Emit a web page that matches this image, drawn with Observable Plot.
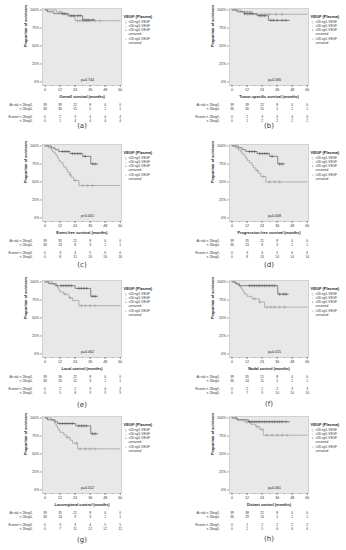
<!DOCTYPE html>
<html><head><meta charset="utf-8">
<script src="https://cdn.jsdelivr.net/npm/d3@7"></script>
<script src="https://cdn.jsdelivr.net/npm/@observablehq/plot@0.6"></script>
<style>
body{margin:0;background:#fff;}
#fig{position:relative;width:346px;height:550px;overflow:hidden;background:#fff;}
#fig svg{position:absolute;overflow:visible;}
</style></head>
<body><div id="fig"></div>
<script>
const panelIds = ["(a)","(b)","(c)","(d)","(e)","(f)","(g)","(h)"];
const xTitles = ["Overall survival (months)","Tumor-specific survival (months)","Event-free survival (months)","Progression-free survival (months)","Local control (months)","Nodal control (months)","Locoregional control (months)","Distant control (months)"];
const pTexts = ["p=0.744","p=0.580","p<0.001","p=0.008","p=0.062","p=0.015","p=0.012","p=0.061"];
const riskTimes = [0,12,24,36,48,60];
const yTicks = [0,0.25,0.5,0.75,1];
const rowLabels = ["At risk < 26ng/L","> 26ng/L","Events < 26ng/L","> 26ng/L"];
const legendTitle = "VEGF (Plasma)";
const legendItems = ["<26 ng/L VEGF",">26 ng/L VEGF","<26 ng/L VEGF","censored",">26 ng/L VEGF","censored"];

const atRiskLow  = [[39,39,22,8,0,0],[39,39,22,8,0,0],[39,35,21,8,0,0],[39,35,21,8,0,0],[39,36,22,8,0,0],[39,35,21,8,0,0],[39,35,21,8,0,0],[39,38,22,8,0,0]];
const atRiskHigh = [[36,30,15,5,1,1],[36,30,15,5,1,1],[36,23,8,3,1,1],[36,23,8,3,1,1],[36,26,12,3,1,1],[36,24,11,5,1,1],[36,24,9,3,1,1],[36,29,13,5,1,1]];
const eventsLow  = [[0,2,3,4,4,4],[0,2,3,4,4,4],[0,3,4,5,6,6],[0,3,4,5,6,6],[0,2,2,3,4,4],[0,2,2,2,3,3],[0,3,3,4,5,5],[0,1,2,2,2,2]];
const eventsHigh = [[0,1,4,4,4,4],[0,1,2,2,2,2],[0,8,15,16,16,16],[0,8,13,14,14,14],[0,5,8,9,9,9],[0,7,9,10,10,10],[0,7,11,12,12,12],[0,2,5,6,6,6]];

// Kaplan-Meier steps [month, proportion]; last entry = end of follow-up
const lowSteps = [
  [[0,1],[2,0.974],[7,0.948],[19,0.92],[30,0.86],[40,0.86]],
  [[0,1],[4,0.974],[10,0.947],[20,0.92],[29,0.855],[46,0.855]],
  [[0,1],[5,0.974],[8,0.948],[11,0.922],[20,0.894],[30,0.855],[36.5,0.75],[42,0.75]],
  [[0,1],[5,0.974],[8,0.948],[11,0.922],[20,0.894],[30,0.855],[36.5,0.75],[42,0.75]],
  [[0,1],[3,0.974],[9,0.948],[24,0.91],[36.5,0.80],[42,0.80]],
  [[0,1],[3,0.974],[6,0.948],[36.5,0.83],[45,0.83]],
  [[0,1],[2,0.974],[8,0.948],[10,0.922],[24.5,0.89],[36.5,0.78],[42,0.78]],
  [[0,1],[4,0.974],[13,0.947],[46,0.947]]
];
const highSteps = [
  [[0,1],[9,0.972],[14,0.943],[18,0.913],[24,0.85],[60,0.85]],
  [[0,1],[7,0.972],[16,0.94],[60,0.94]],
  [[0,1],[3,0.972],[5,0.944],[6,0.916],[8,0.888],[9,0.86],[10,0.832],[11,0.80],[12,0.775],[14,0.74],[15,0.705],[17,0.67],[18,0.635],[20,0.60],[21,0.565],[23,0.52],[27,0.45],[60,0.45]],
  [[0,1],[3,0.972],[5,0.944],[7,0.916],[8,0.888],[10,0.86],[11,0.832],[12,0.80],[14,0.765],[16,0.73],[17,0.695],[19,0.66],[21,0.62],[23,0.575],[27,0.50],[60,0.50]],
  [[0,1],[6,0.972],[8,0.944],[10,0.916],[11,0.888],[12,0.86],[15,0.83],[19,0.78],[22,0.74],[27,0.67],[60,0.67]],
  [[0,1],[3,0.972],[5,0.944],[7,0.916],[8,0.888],[9,0.86],[10,0.832],[12,0.80],[16,0.765],[22,0.72],[26,0.65],[60,0.65]],
  [[0,1],[5,0.972],[7,0.944],[8,0.916],[9,0.888],[10,0.86],[11,0.832],[12,0.80],[15,0.765],[17,0.73],[20,0.69],[22,0.65],[26,0.57],[60,0.57]],
  [[0,1],[4,0.972],[10,0.944],[15,0.912],[19,0.878],[22,0.84],[25,0.76],[60,0.76]]
];
const lowCensor = [
  [14,16,21,23,26,28,31,33,35,38],
  [10,12,14,16,22,24,26,31,33,36,40,43],
  [14,16,18,22,24,26,28,32,38,40],
  [14,16,18,22,24,26,28,32,38,40],
  [13,15,17,19,21,27,29,31,33,38,40],
  [14,16,18,20,22,24,26,28,30,32,34,38,41,43],
  [12,14,16,18,20,22,27,29,31,33,38,40],
  [14,16,18,20,22,24,26,28,30,32,34,36,38,40,43]
];
const highCensor = [
  [12,17,26,28,30,32,34,36,40,44],
  [12,15,20,24,27,30,35,40],
  [20,24,30,34,38],
  [20,25,30,34,38],
  [16,20,29,32,36,40],
  [18,22,28,31,34,38,42],
  [18,25,28,32,36,40],
  [12,20,24,28,32,36,40,44]
];

const labelDy = [42,42,45,45,49,48,48,47];
const FONT = "'Liberation Sans', Arial, sans-serif";
const DARK = "#5a5a5a", LIGHT = "#9a9a9a";

function survAt(steps, t){ let s = 1; for (const [tt, ss] of steps) if (tt <= t) s = ss; return s; }

function panel(i){
  const col = i % 2, row = Math.floor(i / 2);
  const ml = col ? 56 : 42, mr = col ? 38 : 52;
  const low = lowSteps[i].map(([t, s]) => ({t, s}));
  const high = highSteps[i].map(([t, s]) => ({t, s}));
  const lc = lowCensor[i].map(t => ({t, s: survAt(lowSteps[i], t)}));
  const hc = highCensor[i].map(t => ({t, s: survAt(highSteps[i], t)}));
  const tables = [atRiskLow[i], atRiskHigh[i], eventsLow[i], eventsHigh[i]];
  const rowDy = [20, 24, 32, 36];
  const legDy = [12, 16, 20, 24, 29, 33];
  const legSym = ["\u2510", "\u2510", "+", null, "+", null];
  const legCol = [DARK, LIGHT, DARK, null, LIGHT, null];
  const marks = [
    Plot.frame({fill: "#e8e8e8", stroke: "#b0b0b0", strokeWidth: 0.5}),
    Plot.axisX({ticks: d3.range(0, 61, 6), tickSize: 1.2, text: null, label: null, stroke: "#666", strokeWidth: 0.4}),
    Plot.axisX({ticks: riskTimes, tickSize: 2, tickPadding: 1.2, tickFormat: d => d, label: null, stroke: "#444", strokeWidth: 0.5, fill: "#333"}),
    Plot.axisY({ticks: yTicks, tickSize: 2, tickPadding: 1.2, tickFormat: d => Math.round(d * 100) + "%", label: null, stroke: "#444", strokeWidth: 0.5, fill: "#333"}),
    Plot.text(["Proportion of survivors"], {frameAnchor: "left", rotate: -90, dx: -17, fontWeight: "bold", fontSize: 3.8, fill: "#222"}),
    Plot.line(high, {x: "t", y: "s", curve: "step-after", stroke: LIGHT, strokeWidth: 0.7}),
    Plot.line(low, {x: "t", y: "s", curve: "step-after", stroke: DARK, strokeWidth: 0.7}),
    Plot.dot(hc, {x: "t", y: "s", symbol: "plus", r: 1.1, stroke: LIGHT, strokeWidth: 0.5}),
    Plot.dot(lc, {x: "t", y: "s", symbol: "plus", r: 1.1, stroke: DARK, strokeWidth: 0.5}),
    Plot.text([pTexts[i]], {frameAnchor: "bottom-left", dx: 45, dy: -5, textAnchor: "middle", fontSize: 3.6, fill: "#222"}),
    Plot.text([xTitles[i]], {frameAnchor: "bottom", dy: 12, fontWeight: "bold", fontSize: 3.8, fill: "#222"}),
    ...tables.map((vals, r) => Plot.text(riskTimes.map((t, k) => ({t, v: vals[k]})), {x: "t", text: "v", frameAnchor: "bottom", dy: rowDy[r], fontSize: 3.3, fill: "#333"})),
    ...rowLabels.map((lab, r) => Plot.text([lab], {frameAnchor: "bottom-left", textAnchor: "end", dx: -10, dy: rowDy[r], fontSize: 3.3, fill: "#333"})),
    Plot.text([legendTitle], {frameAnchor: "top-right", textAnchor: "start", dx: 2, dy: 7, fontWeight: "bold", fontSize: 4, fill: "#222"}),
    ...legendItems.map((lab, k) => Plot.text([lab], {frameAnchor: "top-right", textAnchor: "start", dx: 7, dy: legDy[k], fontSize: 3.1, fill: "#333"})),
    ...legSym.map((s, k) => s ? Plot.text([s], {frameAnchor: "top-right", textAnchor: "start", dx: 3, dy: legDy[k], fontSize: 4, fill: legCol[k]}) : null).filter(Boolean),
    Plot.text([panelIds[i]], {frameAnchor: "bottom", dy: labelDy[i], fontSize: 7, fill: "#333", fontFamily: "'DejaVu Sans', sans-serif"})
  ];
  const svg = Plot.plot({
    width: 173, height: 136,
    marginLeft: ml, marginRight: mr, marginTop: 8, marginBottom: 51,
    x: {domain: [-2, 61]},
    y: {domain: [-0.05, 1.02]},
    style: {fontFamily: FONT, fontSize: "3.6px", background: "none", overflow: "visible"},
    marks
  });
  svg.style.left = (col * 173) + "px";
  svg.style.top = (row * 136) + "px";
  return svg;
}
const fig = document.getElementById("fig");
for (let i = 0; i < 8; i++) fig.appendChild(panel(i));
</script>
</body></html>
